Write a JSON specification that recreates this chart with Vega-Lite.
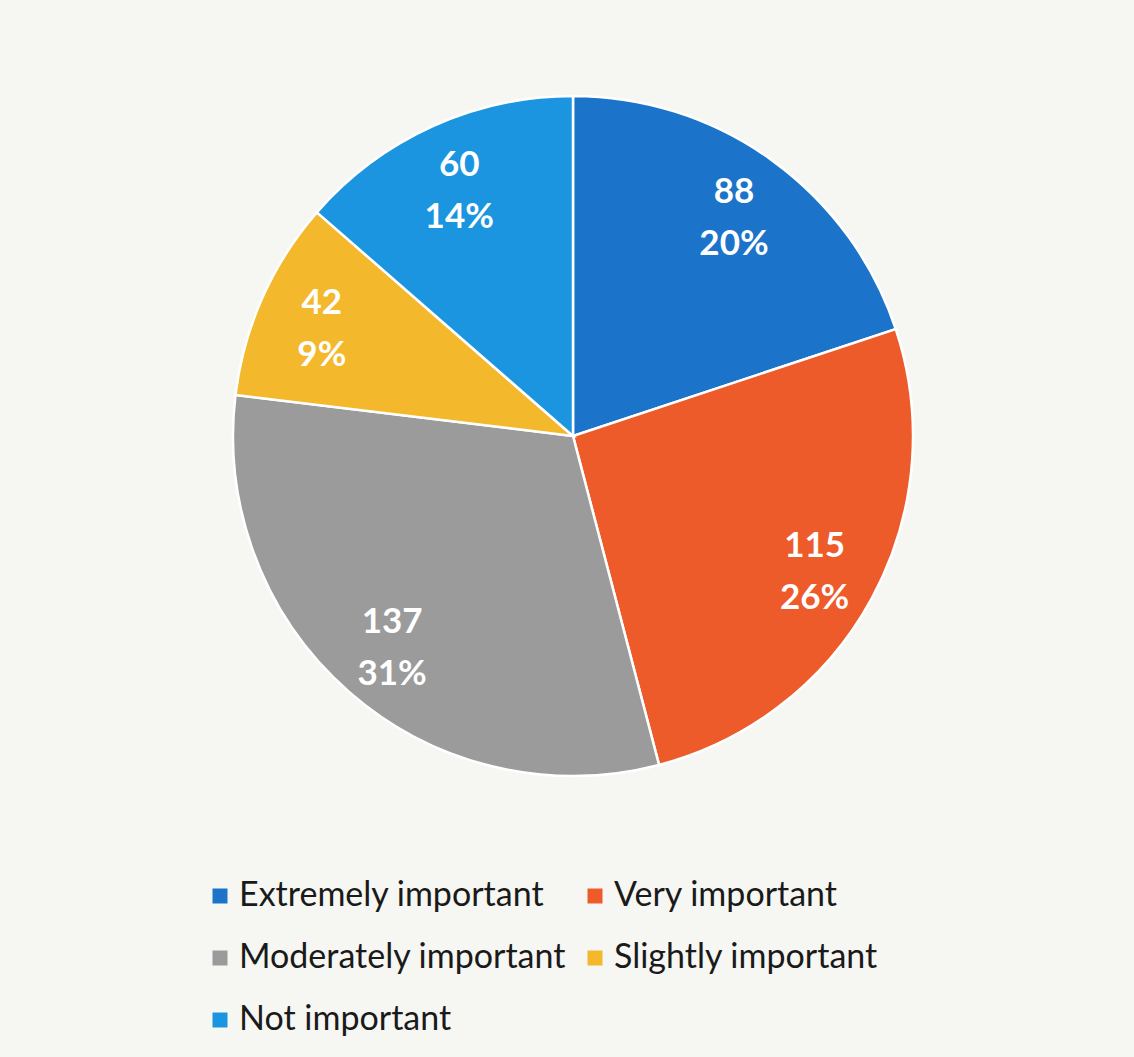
{
  "$schema": "https://vega.github.io/schema/vega-lite/v6.json",
  "width": 1122,
  "height": 872,
  "padding": {"left": 12, "top": 0, "right": 0, "bottom": 20},
  "background": "#f6f7f3",
  "config": {"view": {"stroke": null}},
  "data": {
    "values": [
      {"idx": 1, "category": "Extremely important", "count": 88, "pct": "20%"},
      {"idx": 2, "category": "Very important", "count": 115, "pct": "26%"},
      {"idx": 3, "category": "Moderately important", "count": 137, "pct": "31%"},
      {"idx": 4, "category": "Slightly important", "count": 42, "pct": "9%"},
      {"idx": 5, "category": "Not important", "count": 60, "pct": "14%"}
    ]
  },
  "encoding": {
    "theta": {"field": "count", "type": "quantitative", "stack": true},
    "order": {"field": "idx", "type": "quantitative"},
    "color": {
      "field": "category",
      "type": "nominal",
      "scale": {
        "domain": ["Extremely important", "Very important", "Moderately important", "Slightly important", "Not important"],
        "range": ["#1b74c9", "#ee5b2b", "#9b9b9b", "#f4b82c", "#1c95e0"]
      },
      "legend": {
        "title": null,
        "orient": "none",
        "legendX": 191,
        "legendY": 879,
        "direction": "horizontal",
        "columns": 2,
        "symbolType": "square",
        "symbolSize": 225,
        "symbolStrokeWidth": 0,
        "labelFont": "Lato",
        "labelFontSize": 34,
        "labelColor": "#1a1a1a",
        "labelOffset": 2,
        "labelLimit": 600,
        "rowPadding": 28,
        "columnPadding": 11,
        "padding": 0
      }
    }
  },
  "layer": [
    {
      "mark": {"type": "arc", "outerRadius": 340, "stroke": "#ffffff", "strokeWidth": 2.5}
    },
    {
      "transform": [{"calculate": "[toString(datum.count), datum.pct]", "as": "label"}],
      "mark": {
        "type": "text",
        "radius": 275,
        "font": "Lato",
        "fontSize": 35,
        "fontWeight": "bold",
        "fill": "#ffffff",
        "align": "center",
        "baseline": "middle",
        "lineHeight": 52,
        "dy": -21
      },
      "encoding": {
        "text": {"field": "label"},
        "color": {"value": "#ffffff"}
      }
    }
  ]
}
